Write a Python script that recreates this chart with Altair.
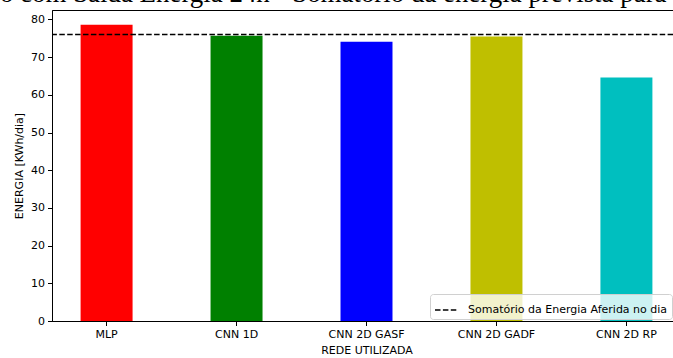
import altair as alt
import pandas as pd

redes = ["MLP", "CNN 1D", "CNN 2D GASF", "CNN 2D GADF", "CNN 2D RP"]
energia = [78.6, 75.7, 74.1, 75.5, 64.6]
cores = ["#ff0000", "#008000", "#0000ff", "#bfbf00", "#00bfbf"]
aferida = [76.0]
legenda = ["Somatório da Energia Aferida no dia"]
titulo = ["Modelo com Saída Energia 24h - Somatório da energia prevista para o dia"]
yticks = [0, 10, 20, 30, 40, 50, 60, 70, 80]

df = pd.DataFrame({"rede": redes, "energia": energia})
df_ref = pd.DataFrame({"v": aferida, "label": legenda})
df_t = pd.DataFrame({"t": titulo})

W, H = 629, 311

yscale = alt.Scale(domain=[0, 82.5], nice=False, zero=True)
yaxis = alt.Axis(title="ENERGIA [KWh/dia]", values=yticks, tickCount=9,
                 tickSize=4.5, labelPadding=3, titlePadding=6, grid=False,
                 labelOverlap=False)

bars = alt.Chart(df).mark_bar().encode(
    x=alt.X("rede:N", sort=redes,
            scale=alt.Scale(paddingInner=0.6, paddingOuter=0.22),
            axis=alt.Axis(title="REDE UTILIZADA", labelAngle=0, tickSize=4.5,
                          labelPadding=3, titlePadding=5, labelOverlap=False)),
    y=alt.Y("energia:Q", scale=yscale, axis=yaxis),
    color=alt.Color("rede:N", scale=alt.Scale(domain=redes, range=cores), legend=None),
)

rule = alt.Chart(df_ref).mark_rule(color="black", strokeWidth=1.5).encode(
    y=alt.Y("v:Q", scale=yscale, axis=yaxis),
    strokeDash=alt.StrokeDash("label:N",
        scale=alt.Scale(domain=legenda, range=[[5.5, 2.4]]),
        legend=alt.Legend(title=None, orient="none", legendX=378, legendY=284,
                          fillColor="rgba(255,255,255,0.8)", strokeColor="#d0d0d0",
                          cornerRadius=3, padding=4, symbolType="stroke",
                          symbolStrokeColor="black", symbolStrokeWidth=1.5,
                          symbolSize=484, labelFont="DejaVu Sans", labelFontSize=11,
                          labelColor="black", labelOffset=10, labelLimit=0)),
)

title = alt.Chart(df_t).mark_text(font="Liberation Serif", fontSize=26.9,
                                  baseline="alphabetic", align="center",
                                  color="black").encode(
    text="t:N", x=alt.value(276), y=alt.value(-8))

chart = alt.layer(bars, rule, title).properties(
    width=W, height=H,
    autosize=alt.AutoSizeParams(type="none"),
    padding={"left": 52, "top": 10, "right": -8, "bottom": 37},
).configure_view(stroke="black", strokeWidth=1).configure_axis(
    labelFont="DejaVu Sans", labelFontSize=11, labelColor="black",
    titleFont="DejaVu Sans", titleFontSize=11, titleColor="black", titleFontWeight="normal",
    domainColor="black", tickColor="black", domainWidth=1, tickWidth=1,
)

chart.save("out.html", embed_options={"renderer": "svg", "actions": False})
